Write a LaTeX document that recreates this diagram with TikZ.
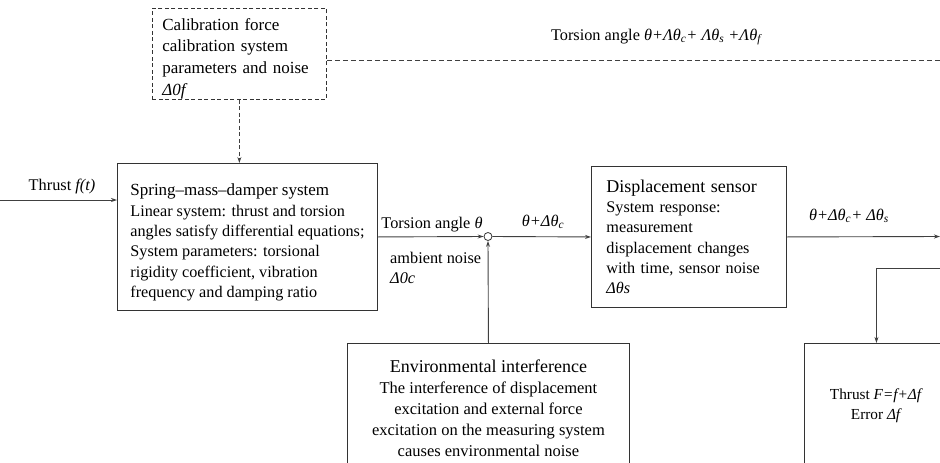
\documentclass[tikz,border=0pt]{standalone}
\usepackage{fontspec}
\setmainfont{Liberation Serif}
\usepackage{tikz}
\usetikzlibrary{arrows.meta,positioning,calc}

\newcommand{\lsub}[1]{\textsubscript{\itshape #1}}

\begin{document}
\begin{tikzpicture}[
    x=1pt, y=-1pt,
    blk/.style={rectangle, draw=black!80, line width=0.9pt, inner sep=0pt, align=left, font=\fontsize{16.2}{20.3}\selectfont},
    dbox/.style={blk, dash pattern=on 4pt off 2.5pt, line width=0.8pt},
    sumpt/.style={circle, draw=black!80, line width=0.8pt, fill=white, inner sep=0pt, minimum size=8pt},
    arr/.style={-{Stealth[length=6pt,width=4pt]}, line width=0.9pt, draw=black!75},
    darr/.style={arr, dash pattern=on 4pt off 2.5pt, line width=0.8pt},
    dline/.style={draw=black!75, dash pattern=on 5pt off 3pt, line width=0.8pt},
    lbl/.style={font=\fontsize{16.3}{20}\selectfont, inner sep=0pt, anchor=base}
]
    \useasboundingbox (0,0) rectangle (940,463);
    \clip (0,0) rectangle (940,463);

    % blocks
    \node [dbox, anchor=north west, minimum width=174pt, minimum height=91pt, text width=154pt, font=\fontsize{17}{21.7}\selectfont] (n0) at (152,8)
        {\rule{0pt}{21pt}Calibration force\\calibration system\\parameters and noise\\\textit{Δ0f}};
    \node [blk, anchor=north west, minimum width=260pt, minimum height=147pt] (n1) at (117,163)
        {{\fontsize{17}{21}\selectfont\rule{0pt}{23pt}Spring--mass--damper system}\\Linear system: thrust and torsion\\angles satisfy differential equations;\\System parameters: torsional\\rigidity coefficient, vibration\\frequency and damping ratio};
    \node [sumpt] (s) at (488,236.5) {};
    \node [blk, anchor=north west, minimum width=195pt, minimum height=141pt, text width=165pt] (n2) at (591,166)
        {{\fontsize{18}{20.5}\selectfont Displacement sensor}\\System response:\\measurement\\displacement changes\\with time, sensor noise\\\textit{Δθs}};
    \node [blk, align=center, anchor=north west, minimum width=282pt, minimum height=130pt, font=\fontsize{16.5}{21}\selectfont] (n3) at (347,343)
        {{\fontsize{18}{21.5}\selectfont Environmental interference}\\The interference of displacement\\excitation and external force\\excitation on the measuring system\\causes environmental noise};
    \node [blk, align=center, anchor=north west, minimum width=144pt, minimum height=124pt, font=\fontsize{15.3}{20.3}\selectfont] (n4) at (804,343)
        {Thrust \textit{F=f+Δf}\\Error \textit{Δf}};

    \coordinate (in) at (0,200);
    \coordinate (out) at (940,236.5);
    \coordinate (fb) at (945,268);
    \coordinate (tr) at (945,60);

    % connectors
    \draw [arr] (in) -- (in -| n1.west);
    \draw [arr] (n1.east) -- (s.west);
    \draw [arr] (s.east) -- (n2.west);
    \draw [arr] (n2.east) -- (out);
    \draw [arr] (n3.north) -- (s.south);
    \draw [arr] (fb) -| (n4.north);
    \draw [dline] (n0.east |- tr) -- (tr);
    \draw [darr] (n0.south) -- (n0.south |- n1.north);

    % labels
    \node [lbl] (l1) at (62,190) {Thrust \textit{f(t)}};
    \node [lbl] (l2) at (432,228) {Torsion angle \textit{θ}};
    \node [lbl] (l3) at (543,226) {\textit{θ+Δθ}\lsub{c}};
    \node [lbl] (l4) at (849,220) {\textit{θ+Δθ}\lsub{c}\textit{+ Δθ}\lsub{s}};
    \node [lbl, anchor=north west, align=left] (l5) at (390,252) {ambient noise\\\textit{Δ0c}};
    \node [lbl] (l6) at (656,40) {Torsion angle \textit{θ+Λθ}\lsub{c}\textit{+ Λθ}\lsub{s}\textit{ +Λθ}\lsub{f}};
\end{tikzpicture}
\end{document}
